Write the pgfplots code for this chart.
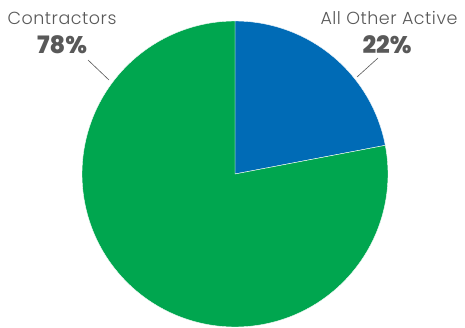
\documentclass[border=0pt]{standalone}
\usepackage{pgfplots}
\pgfplotsset{compat=1.18}
\usepackage{fontspec}
\setmainfont{Poppins}
\newfontfamily\lightfont{Poppins Light}[LetterSpace=3]
\newfontfamily\heavyfont{Poppins ExtraBold}
\definecolor{pieblue}{HTML}{006BB6}
\definecolor{piegreen}{HTML}{00A64F}
\definecolor{labgray}{HTML}{595959}
% shares in percent
\def\shareOther{22}
\def\shareContr{78}
\def\R{153}
\begin{document}
\begin{tikzpicture}
\begin{axis}[
  x=1pt, y=1pt,
  xmin=-235, xmax=230, ymin=-153, ymax=174,
  hide axis, clip=false,
]
% All Other Active slice, starting at 12 o'clock and running clockwise
\addplot[fill=pieblue, draw=white, line width=0.4pt, domain={90-\shareOther*3.6}:90, samples=150, variable=\t]
  ({\R*cos(\t)},{\R*sin(\t)}) -- (axis cs:0,0) -- cycle;
% Contractors slice
\addplot[fill=piegreen, draw=white, line width=0.4pt, domain=90:{90+\shareContr*3.6}, samples=300, variable=\t]
  ({\R*cos(\t)},{\R*sin(\t)}) -- (axis cs:0,0) -- cycle;
% leader lines
\draw[labgray, line width=0.6pt] (axis cs:-147,114) -- (axis cs:-126,94);
\draw[labgray, line width=0.6pt] (axis cs:143,116) -- (axis cs:122,97);
% labels
\node[text=labgray, font=\lightfont\fontsize{17.5}{20}\selectfont] at (axis cs:-173,156) {Contractors};
\node[text=labgray, font=\heavyfont\fontsize{24}{26}\selectfont] at (axis cs:-173,129) {78\%};
\node[text=labgray, font=\lightfont\fontsize{17.5}{20}\selectfont] at (axis cs:154,156) {All Other Active};
\node[text=labgray, font=\heavyfont\fontsize{24}{26}\selectfont] at (axis cs:152,129) {22\%};
\end{axis}
\pgfresetboundingbox
\path (current axis.south west) rectangle (current axis.north east);
\end{tikzpicture}
\end{document}
